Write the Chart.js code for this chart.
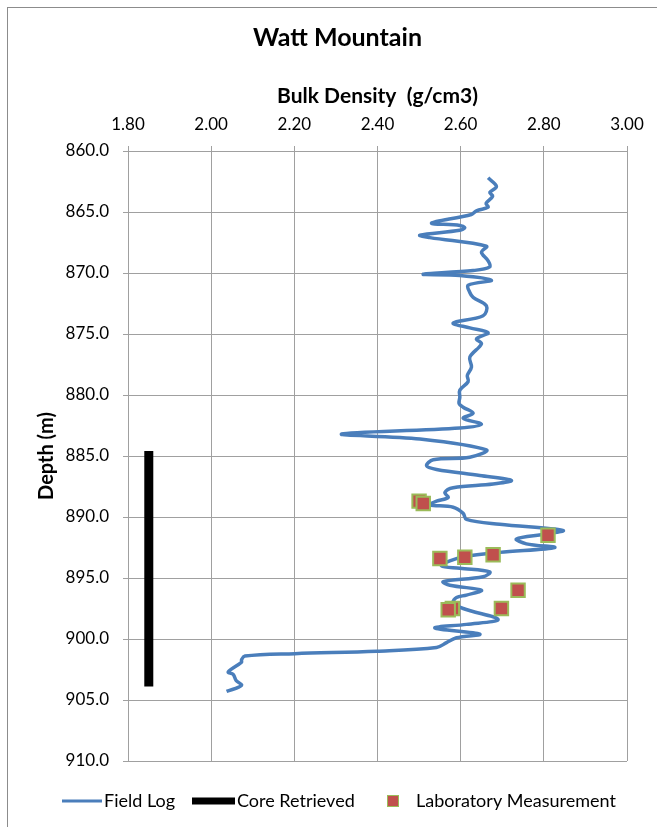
<!DOCTYPE html>
<html>
<head>
<meta charset="utf-8">
<script src="https://cdn.jsdelivr.net/npm/chart.js@4.4.1/dist/chart.umd.min.js"></script>
<style>
  html, body { margin: 0; padding: 0; background: #fff; }
  #wrap { width: 657px; height: 827px; position: relative; }
</style>
</head>
<body>
<div id="wrap"><canvas id="chart"></canvas></div>
<script>
// field log (depth in m, bulk density in g/cm3)
const logDepth = [
  862.2, 862.9, 863.4, 863.7, 864.3, 864.6, 864.9, 865.2, 865.9, 866.1,
  866.3, 866.5, 866.9, 867.1, 867.8, 868.3, 869.0, 869.5, 869.8, 870.1,
  870.2, 870.6, 871.0, 871.6, 872.0, 872.7, 873.5, 874.1, 874.5, 874.9,
  875.4, 875.8, 876.9, 877.7, 878.4, 878.9, 879.6, 880.2, 880.7, 881.0,
  881.5, 881.9, 882.4, 882.7, 883.2, 883.6, 884.5, 885.1, 885.3, 885.8,
  886.1, 886.6, 887.0, 887.3, 887.6, 888.0, 888.4, 888.7, 889.0, 889.2,
  889.7, 890.2, 890.6, 891.1, 891.4, 891.8, 892.2, 892.5, 892.9, 893.2,
  893.6, 894.0, 894.2, 894.5, 894.9, 895.3, 895.6, 896.0, 896.4, 896.6,
  897.0, 897.5, 898.4, 898.8, 899.1, 899.6, 899.9, 900.3, 900.7, 901.0,
  901.2, 901.4, 901.7, 901.9, 902.7, 902.9, 903.4, 903.8, 904.3
];
const logDensity = [
  2.666, 2.686, 2.670, 2.677, 2.661, 2.666, 2.638, 2.626, 2.530, 2.598,
  2.610, 2.598, 2.502, 2.526, 2.662, 2.650, 2.666, 2.670, 2.630, 2.510,
  2.598, 2.674, 2.618, 2.622, 2.630, 2.662, 2.654, 2.582, 2.622, 2.666,
  2.638, 2.650, 2.622, 2.626, 2.616, 2.618, 2.598, 2.598, 2.596, 2.606,
  2.630, 2.606, 2.650, 2.598, 2.314, 2.502, 2.662, 2.622, 2.534, 2.518,
  2.542, 2.646, 2.722, 2.678, 2.582, 2.562, 2.570, 2.542, 2.526, 2.582,
  2.606, 2.614, 2.694, 2.846, 2.806, 2.734, 2.758, 2.826, 2.694, 2.614,
  2.574, 2.554, 2.598, 2.670, 2.654, 2.558, 2.574, 2.650, 2.614, 2.590,
  2.582, 2.606, 2.690, 2.614, 2.538, 2.646, 2.590, 2.566, 2.542, 2.398,
  2.201, 2.081, 2.073, 2.073, 2.041, 2.053, 2.060, 2.073, 2.037
];

// laboratory measurements
const labDepth =   [888.7, 888.9, 891.5, 893.4, 893.3, 893.1, 896.0, 897.5, 897.6, 897.5];
const labDensity = [2.500, 2.510, 2.810, 2.550, 2.610, 2.678, 2.738, 2.580, 2.570, 2.698];

// core retrieved interval
const coreDepth = [884.6, 903.9];
const coreDensity = [1.85, 1.85];

// axis ticks
const densityTicks = [1.8, 2.0, 2.2, 2.4, 2.6, 2.8, 3.0];
const depthTicks = [860, 865, 870, 875, 880, 885, 890, 895, 900, 905, 910];

const FONT = "Lato, 'Open Sans', sans-serif";
const BLUE = "#4a7ebb";
const GRID = "#a0a0a0";

function pts(xs, ys){
  return xs.map((x, i) => ({x: x, y: ys[i]}));
}

// page frame + white background
const framePlugin = {
  id: "frame",
  beforeDraw(chart){
    const c = chart.ctx;
    c.save();
    c.fillStyle = "#fff";
    c.fillRect(0, 0, chart.width, chart.height);
    c.strokeStyle = "#8c8c8c";
    c.lineWidth = 1;
    c.strokeRect(7.5, 7.5, 700, 900);
    c.restore();
  }
};

// legend laid out like the spreadsheet one
const legendPlugin = {
  id: "sheetLegend",
  afterDraw(chart){
    const c = chart.ctx;
    const y = 801;
    c.save();
    c.lineCap = "butt";
    c.strokeStyle = BLUE;
    c.lineWidth = 3;
    c.beginPath(); c.moveTo(62, y); c.lineTo(102, y); c.stroke();
    c.strokeStyle = "#000";
    c.lineWidth = 7;
    c.beginPath(); c.moveTo(192, y); c.lineTo(235, y); c.stroke();
    c.fillStyle = "#c0504d";
    c.fillRect(388, y - 5, 10, 10);
    c.strokeStyle = "#9bbb59";
    c.lineWidth = 1;
    c.strokeRect(387.5, y - 5.5, 11, 11);
    c.fillStyle = "#000";
    c.font = "18px " + FONT;
    c.textBaseline = "middle";
    c.fillText("Field Log", 104, y);
    c.fillText("Core Retrieved", 237, y);
    c.fillText("Laboratory Measurement", 416, y);
    c.restore();
  }
};

const ctx = document.getElementById("chart").getContext("2d");

const chart = new Chart(ctx, {
  type: "scatter",
  data: {
    datasets: [{
      label: "Laboratory Measurement",
      data: pts(labDensity, labDepth),
      pointStyle: "rect",
      pointRadius: 9.5,
      backgroundColor: "#c0504d",
      borderColor: "#9bbb59",
      borderWidth: 2,
      order: 1
    }, {
      label: "Field Log",
      data: pts(logDensity, logDepth),
      showLine: true,
      borderColor: BLUE,
      borderWidth: 3.5,
      pointRadius: 0,
      tension: 0.35,
      order: 2
    }, {
      label: "Core Retrieved",
      data: pts(coreDensity, coreDepth),
      showLine: true,
      borderColor: "#000",
      borderWidth: 9,
      borderCapStyle: "butt",
      pointRadius: 0,
      order: 3
    }]
  },
  options: {
    responsive: true,
    maintainAspectRatio: false,
    animation: false,
    devicePixelRatio: 1,
    layout: { padding: { left: 48, right: 30, top: 0, bottom: 66 } },
    plugins: {
      legend: { display: false },
      tooltip: { enabled: false },
      title: {
        display: true,
        text: "Watt Mountain",
        color: "#000",
        font: { family: FONT, size: 25, weight: "bold" },
        padding: { top: 23, bottom: 0 }
      }
    },
    scales: {
      x: {
        type: "linear",
        position: "top",
        min: 1.8,
        max: 3.0,
        afterFit(s){ s.height = 98; },
        afterBuildTicks(s){ s.ticks = densityTicks.map(v => ({value: v})); },
        title: {
          display: true,
          text: "Bulk Density  (g/cm3)",
          color: "#000",
          font: { family: FONT, size: 21, weight: "bold" },
          padding: { top: 31, bottom: 0 }
        },
        ticks: {
          color: "#000",
          font: { family: FONT, size: 17 },
          padding: 11,
          maxRotation: 0,
          callback: v => Number(v).toFixed(2)
        },
        grid: { color: GRID, lineWidth: 1, tickLength: 5 },
        border: { color: GRID }
      },
      y: {
        type: "linear",
        reverse: true,
        min: 860,
        max: 910,
        afterFit(s){ s.width = 80; },
        afterBuildTicks(s){ s.ticks = depthTicks.map(v => ({value: v})); },
        title: {
          display: true,
          text: "Depth (m)",
          color: "#000",
          font: { family: FONT, size: 20, weight: "bold" },
          padding: { top: -13.5, bottom: 0 }
        },
        ticks: {
          color: "#000",
          font: { family: FONT, size: 17 },
          padding: 14,
          callback: v => Number(v).toFixed(1)
        },
        grid: { color: GRID, lineWidth: 1, tickLength: 5 },
        border: { color: GRID }
      }
    }
  },
  plugins: [framePlugin, legendPlugin]
});
</script>
</body>
</html>
